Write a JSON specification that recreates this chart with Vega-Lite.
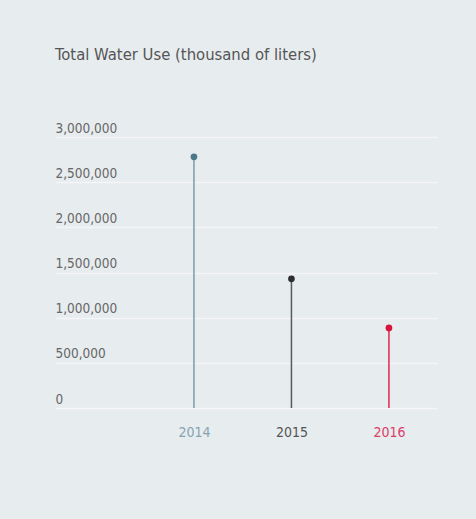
{
  "$schema": "https://vega.github.io/schema/vega-lite/v6.json",
  "autosize": {"type": "none"},
  "width": 382,
  "height": 271,
  "padding": {"left": 55, "top": 137, "right": 39, "bottom": 111},
  "background": "#e7ecef",
  "title": {
    "text": "Total Water Use (thousand of liters)",
    "anchor": "start",
    "frame": "group",
    "font": "DejaVu Sans Condensed, sans-serif",
    "fontSize": 16.5,
    "fontWeight": "normal",
    "color": "#555555",
    "offset": 58
  },
  "data": {
    "values": [
      {"year": "2014", "use": 2780000},
      {"year": "2015", "use": 1430000},
      {"year": "2016", "use": 886000}
    ]
  },
  "config": {
    "view": {"stroke": null},
    "font": "DejaVu Sans Condensed, sans-serif"
  },
  "encoding": {
    "x": {
      "field": "year",
      "type": "ordinal",
      "scale": {"type": "point", "padding": 0.959, "align": 0.743},
      "axis": {
        "title": null,
        "domain": false,
        "ticks": false,
        "tickSize": 0,
        "grid": false,
        "labelAngle": 0,
        "labelPadding": 17,
        "labelFontSize": 14,
        "labelBaseline": "top",
        "labelColor": {"expr": "datum.value == '2014' ? '#86a3b3' : datum.value == '2015' ? '#555555' : '#da3f68'"}
      }
    }
  },
  "layer": [
    {
      "mark": {"type": "rule", "strokeWidth": 1.5},
      "encoding": {
        "y": {
          "field": "use",
          "type": "quantitative",
          "scale": {"domain": [0, 3000000], "nice": false},
          "axis": {
            "title": null,
            "domain": false,
            "ticks": false,
            "tickSize": 0,
            "labelPadding": 0,
            "labelAlign": "left",
            "labelBaseline": "alphabetic",
            "labelOffset": -5,
            "labelFontSize": 13.5,
            "labelColor": "#666666",
            "values": [0, 500000, 1000000, 1500000, 2000000, 2500000, 3000000],
            "format": ",d",
            "grid": true,
            "gridColor": "#ffffff",
            "gridOpacity": 0.55,
            "gridWidth": 1.5
          }
        },
        "y2": {"datum": 0},
        "color": {
          "field": "year",
          "type": "nominal",
          "scale": {"domain": ["2014", "2015", "2016"], "range": ["#7b9cac", "#5a5a5a", "#dd2a55"]},
          "legend": null
        }
      }
    },
    {
      "mark": {"type": "circle", "size": 45, "opacity": 1},
      "encoding": {
        "y": {"field": "use", "type": "quantitative"},
        "fill": {
          "field": "year",
          "type": "nominal",
          "scale": {"domain": ["2014", "2015", "2016"], "range": ["#4d7888", "#2e2e2e", "#d6163f"]},
          "legend": null
        }
      }
    }
  ]
}
